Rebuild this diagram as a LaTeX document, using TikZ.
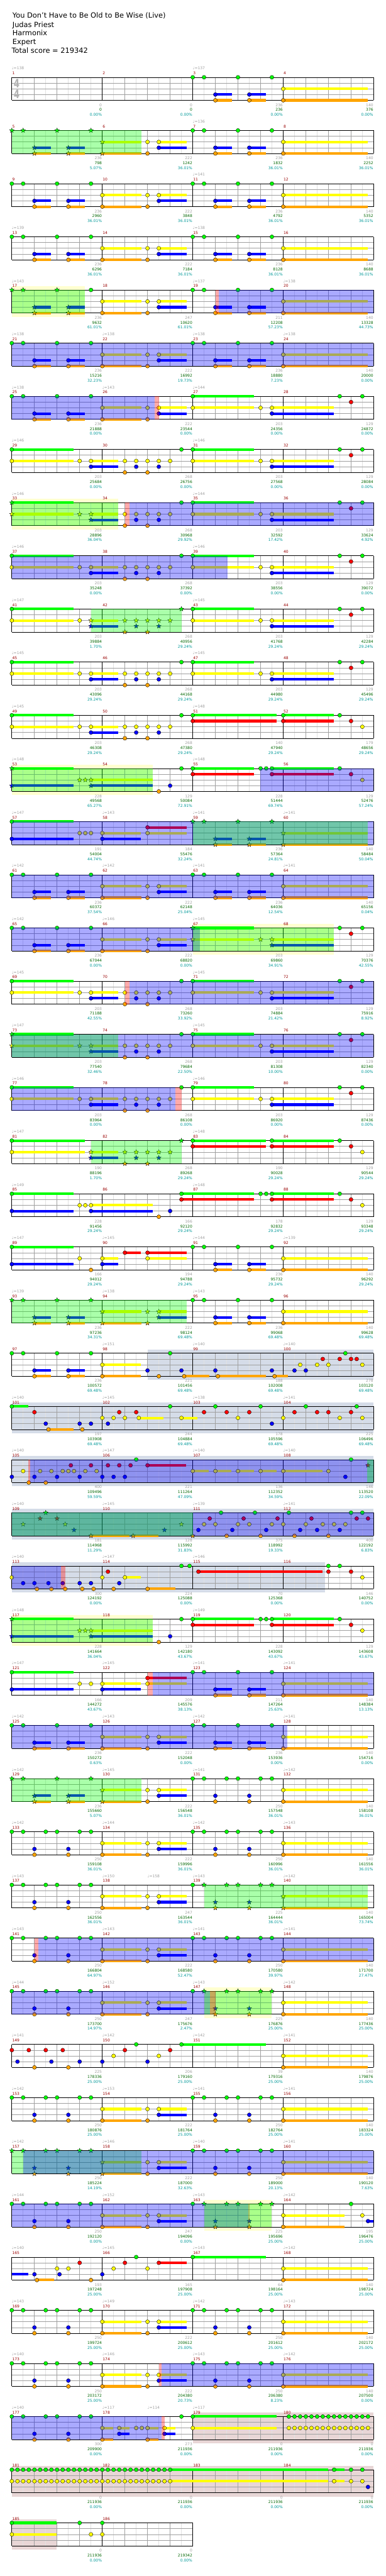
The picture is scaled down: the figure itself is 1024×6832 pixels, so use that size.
\documentclass[tikz,border=0pt]{standalone}
\usepackage{fontspec}
\setmainfont{DejaVu Sans}
\definecolor{cG}{RGB}{0,255,0}
\definecolor{cR}{RGB}{255,0,0}
\definecolor{cY}{RGB}{255,255,0}
\definecolor{cB}{RGB}{0,0,255}
\definecolor{cO}{RGB}{255,165,0}
\colorlet{l0}{cG}\colorlet{l1}{cR}\colorlet{l2}{cY}\colorlet{l3}{cB}\colorlet{l4}{cO}
\definecolor{cSolo}{RGB}{213,220,232}
\definecolor{cLY}{RGB}{255,255,208}
\definecolor{cBRE}{RGB}{232,214,214}
\definecolor{cMeas}{RGB}{153,0,0}
\definecolor{cGray}{RGB}{160,160,160}
\definecolor{cCum}{RGB}{0,102,0}
\definecolor{cPct}{RGB}{0,153,153}
\definecolor{cBeat}{RGB}{160,160,160}
\definecolor{cSub}{RGB}{225,225,225}
\newcommand\fs{\fontsize{10}{12}\selectfont}
\def\pass{0}
\newcommand\onpass[2]{\ifnum\pass=#1\relax#2\fi}
% notes (pass 4), sustains (pass 3)
\newcommand\nt[2]{\onpass{4}{\filldraw[fill=l#2,draw=black,line width=0.6pt] ({30*(#1)},{15.25*#2}) circle[radius=5.2pt];}}
\newcommand\susb[3]{\onpass{3}{\fill[l#2] ({30*(#1)},{15.25*#2-3.4}) rectangle ({30*(#3)},{15.25*#2+3.4});}}
\newcommand\ntS[3]{\susb{#1}{#2}{#3}\nt{#1}{#2}}
\newcommand\sr[2]{\onpass{4}{\filldraw[fill=l#2,draw=black,line width=0.5pt] ({30*(#1)},{15.25*#2}) +(90:6.5pt) -- +(126:2.7pt) -- +(162:6.5pt) -- +(198:2.7pt) -- +(234:6.5pt) -- +(270:2.7pt) -- +(306:6.5pt) -- +(342:2.7pt) -- +(18:6.5pt) -- +(54:2.7pt) -- cycle;}}
\newcommand\srS[3]{\susb{#1}{#2}{#3}\sr{#1}{#2}}
% overlays (pass 5) and backgrounds (pass 1)
\newcommand\ovl[3]{\onpass{5}{\fill[#1,fill opacity=0.333] ({30*(#2)},0) rectangle ({30*(#3)},61);}}
\newcommand\od[2]{\ovl{cG}{#1}{#2}}
\newcommand\act[2]{\ovl{cB}{#1}{#2}}
\newcommand\pk[2]{\ovl{cR}{#1}{#2}}
\newcommand\bgr[3]{\onpass{1}{\fill[#1] ({30*(#2)},-10) rectangle ({30*(#3)},71);}}
\newcommand\solo[2]{\bgr{cSolo}{#1}{#2}}
\newcommand\ly[2]{\bgr{cLY}{#1}{#2}}
\newcommand\bre[2]{\bgr{cBRE}{#1}{#2}}
% grid (pass 2)
\newcommand\grid[1]{\onpass{2}{%
 \pgfmathtruncatemacro\gN{8*#1}%
 \foreach \i in {1,...,\gN}{\pgfmathtruncatemacro\gR{mod(\i,2)}\ifnum\gR=1 \draw[cSub,line width=1pt] ({30*\i},0) -- ({30*\i},61);\fi}%
 \foreach \i in {2,4,...,\gN}{\pgfmathtruncatemacro\gR{mod(\i,8)}\ifnum\gR>0 \draw[cBeat,line width=1pt] ({30*\i},0) -- ({30*\i},61);\fi}%
 \foreach \yy in {15.25,30.5,45.75}{\draw[cBeat,line width=1pt] (0,\yy) -- ({240*#1},\yy);}%
 \foreach \i in {0,...,#1}{\draw[black,line width=1pt] ({240*\i},0) -- ({240*\i},61);}%
 \draw[black,line width=1pt] (0,0) -- ({240*#1},0) (0,61) -- ({240*#1},61);}}
% texts (pass 6)
\newcommand\M[5]{\onpass{6}{%
 \node[anchor=base west,text=cMeas,font=\fs,inner sep=0] (m#2) at ({240*#1+1},-7) {#2};
 \node[anchor=base east,text=cGray,font=\fs,inner sep=0] (g#2) at ({240*(#1+1)-1},77) {#3};
 \node[anchor=base east,text=cCum,font=\fs,inner sep=0] (c#2) at ({240*(#1+1)-1},90) {#4};
 \node[anchor=base east,text=cPct,font=\fs,inner sep=0] (p#2) at ({240*(#1+1)-1},103) {#5\%};}}
\newcommand\tp[2]{\onpass{6}{\node[anchor=base west,text=cGray,font=\fs,inner sep=0] (t\currow-#1) at ({30*(#1)},-20) {♩=#2};}}
\newcommand\Row[2]{\def\currow{#1}\begin{scope}[shift={(31.35,{205+141*(#1-1)})}]#2\end{scope}}
% patterns
\newcommand\PA[3]{#2{#1}{0}#2{#1+1}{0}#2{#1+4}{0}#2{#1+7}{0}#3{#1+2}{3}{#1+3.46}#3{#1+2}{4}{#1+3.46}#3{#1+5}{3}{#1+6.46}#3{#1+5}{4}{#1+6.46}}
\newcommand\PB[4]{#2{#1}{2}{#1+3.44}#2{#1}{4}{#1+3.44}#3{#1+4}{2}#3{#1+4}{4}#4{#1+5}{2}{#1+7.44}#4{#1+5}{3}{#1+7.44}}
\newcommand\PC[2]{#2{#1}{2}{#1+7.47}#2{#1}{4}{#1+7.47}}
\newcommand\PH[3]{#2{#1}{0}#3{#1+1}{0}#3{#1+3}{0}#3{#1+4}{0}#3{#1+6}{0}#3{#1+7}{0}#3{#1+2}{3}#3{#1+2}{4}#3{#1+5}{3}#3{#1+5}{4}}
\newcommand\PD[3]{#3{#1}{0}{#1+5.44}#3{#1}{2}{#1+5.44}#2{#1+6}{2}#3{#1+7}{2}{#1+12.45}#3{#1+7}{3}{#1+12.45}\nt{#1+13}{0}\nt{#1+14}{1}\nt{#1+15}{0}}
\newcommand\PFb[2]{#2{#1+10}{2}#2{#1+10}{4}#2{#1+11}{2}#2{#1+11}{3}#2{#1+12}{2}#2{#1+12}{4}#2{#1+13}{2}#2{#1+13}{3}#2{#1+14}{2}#2{#1+15}{0}}
\newcommand\PF[5]{#2{#1}{0}{#1+5.46}#2{#1}{2}{#1+5.46}#3{#1+6}{2}#4{#1+7}{2}{#1+9.43}#4{#1+7}{3}{#1+9.43}\PFb{#1}{#5}}
\newcommand\PG[1]{\ntS{#1}{0}{#1+7.44}\ntS{#1}{1}{#1+7.44}\ntS{#1+8}{0}{#1+12.45}\ntS{#1+8}{1}{#1+12.45}\nt{#1+13}{0}\nt{#1+14}{1}\nt{#1+15}{2}}
\newcommand\PK{\srS{0}{0}{5.46}\srS{0}{3}{5.46}\sr{6}{2}\sr{6.5}{2}\srS{7}{2}{12.45}\srS{7}{3}{12.45}\nt{13}{4}\nt{14}{3}\nt{15}{0}
\ntS{16}{0}{21.44}\ntS{16}{1}{21.44}\nt{22}{0}\nt{22.5}{0}\ntS{23}{0}{28.45}\ntS{23}{1}{28.45}\nt{29}{0}\nt{30}{1}\nt{31}{2}\ly{0}{12.45}\od{0}{12.45}}
\newcommand\RiffRow{\PA{0}{\nt}{\ntS}\PB{8}{\ntS}{\nt}{\ntS}\PA{16}{\nt}{\ntS}\PC{24}{\ntS}}
\newcommand\HRow{\PH{0}{\nt}{\nt}\PB{8}{\ntS}{\nt}{\ntS}\PH{16}{\nt}{\nt}\PC{24}{\ntS}}
\newcommand\PFp{\PF{0}{\ntS}{\nt}{\ntS}{\nt}}
% ================= all rows
\newcommand\AllRows{%
\Row{1}{\grid{4}\tp{0}{138}\tp{16}{137}
\M{0}{1}{0}{0}{0.00}\M{1}{2}{0}{0}{0.00}\M{2}{3}{236}{236}{0.00}\M{3}{4}{140}{376}{0.00}
\PA{16}{\nt}{\ntS}\PC{24}{\ntS}
\onpass{6}{\node[font=\bfseries\fontsize{31}{31}\selectfont,text=black!30,xscale=0.72,inner sep=0] (ts1) at (13,16.5) {4};
\node[font=\bfseries\fontsize{31}{31}\selectfont,text=black!30,xscale=0.72,inner sep=0] (ts2) at (13,45.5) {4};}}
\Row{2}{\grid{4}\tp{16}{136}
\M{0}{5}{236}{798}{5.07}\M{1}{6}{222}{1242}{36.01}\M{2}{7}{236}{1832}{36.01}\M{3}{8}{140}{2252}{36.01}
\PA{0}{\sr}{\srS}\PB{8}{\srS}{\nt}{\ntS}\PA{16}{\nt}{\ntS}\PC{24}{\ntS}\od{0}{11.44}}
\Row{3}{\grid{4}\tp{16}{141}
\M{0}{9}{236}{2960}{36.01}\M{1}{10}{222}{3848}{36.01}\M{2}{11}{236}{4792}{36.01}\M{3}{12}{140}{5352}{36.01}
\RiffRow}
\Row{4}{\grid{4}\tp{0}{139}\tp{16}{138}
\M{0}{13}{236}{6296}{36.01}\M{1}{14}{222}{7184}{36.01}\M{2}{15}{236}{8128}{36.01}\M{3}{16}{140}{8688}{36.01}
\RiffRow}
\Row{5}{\grid{4}\tp{0}{143}\tp{16}{137}\tp{24}{138}
\M{0}{17}{236}{9632}{61.01}\M{1}{18}{247}{10620}{61.01}\M{2}{19}{211}{12208}{57.23}\M{3}{20}{140}{13328}{44.73}
\sr{0}{0}\sr{1}{0}\sr{4}{0}\nt{7}{0}\srS{2}{3}{3.46}\srS{2}{4}{3.46}\srS{5}{3}{6.46}\srS{5}{4}{6.46}
\PB{8}{\ntS}{\nt}{\ntS}\PA{16}{\nt}{\ntS}\PC{24}{\ntS}
\ly{0}{6.47}\od{0}{6.47}\pk{18}{18.33}\act{18.33}{32}}
\Row{6}{\grid{4}\tp{0}{138}\tp{8}{138}\tp{16}{138}\tp{24}{138}
\M{0}{21}{236}{15216}{32.23}\M{1}{22}{222}{16992}{19.73}\M{2}{23}{236}{18880}{7.23}\M{3}{24}{140}{20000}{0.00}
\RiffRow\act{0}{32}}
\Row{7}{\grid{4}\tp{0}{138}\tp{8}{143}\tp{16}{144}
\M{0}{25}{236}{21888}{0.00}\M{1}{26}{222}{23544}{0.00}\M{2}{27}{203}{24356}{0.00}\M{3}{28}{129}{24872}{0.00}
\PA{0}{\nt}{\ntS}\PB{8}{\ntS}{\nt}{\ntS}\PD{16}{\nt}{\ntS}\act{0}{12.62}\pk{12.62}{13}}
\Row{8}{\grid{4}\tp{0}{146}\tp{16}{146}
\M{0}{29}{203}{25684}{0.00}\M{1}{30}{268}{26756}{0.00}\M{2}{31}{203}{27568}{0.00}\M{3}{32}{129}{28084}{0.00}
\PFp\PD{16}{\nt}{\ntS}}
\Row{9}{\grid{4}\tp{0}{146}\tp{16}{144}
\M{0}{33}{203}{28896}{36.04}\M{1}{34}{268}{30968}{29.92}\M{2}{35}{203}{32592}{17.42}\M{3}{36}{129}{33624}{4.92}
\PF{0}{\srS}{\sr}{\srS}{\nt}\PD{16}{\nt}{\ntS}\ly{0}{9.43}\od{0}{9.43}\pk{10}{10.43}\act{10.43}{32}}
\Row{10}{\grid{4}\tp{0}{146}\tp{16}{146}
\M{0}{37}{203}{35248}{0.00}\M{1}{38}{268}{37392}{0.00}\M{2}{39}{203}{38556}{0.00}\M{3}{40}{129}{39072}{0.00}
\PFp\PD{16}{\nt}{\ntS}\act{0}{19.1}}
\Row{11}{\grid{4}\tp{0}{147}\tp{16}{145}
\M{0}{41}{203}{39884}{1.70}\M{1}{42}{268}{40956}{29.24}\M{2}{43}{203}{41768}{29.24}\M{3}{44}{129}{42284}{29.24}
\PF{0}{\ntS}{\nt}{\srS}{\sr}\PD{16}{\nt}{\ntS}\od{7}{15}}
\Row{12}{\grid{4}\tp{0}{145}\tp{16}{145}
\M{0}{45}{203}{43096}{29.24}\M{1}{46}{268}{44168}{29.24}\M{2}{47}{203}{44980}{29.24}\M{3}{48}{129}{45496}{29.24}
\PFp\PD{16}{\nt}{\ntS}}
\Row{13}{\grid{4}\tp{0}{145}\tp{16}{148}
\M{0}{49}{203}{46308}{29.24}\M{1}{50}{268}{47380}{29.24}\M{2}{51}{140}{47940}{29.24}\M{3}{52}{179}{48656}{29.24}
\PFp\PG{16}}
\Row{14}{\grid{4}\tp{0}{148}\tp{16}{148}
\M{0}{53}{228}{49568}{65.27}\M{1}{54}{129}{50084}{72.91}\M{2}{55}{228}{51444}{69.74}\M{3}{56}{129}{52476}{57.24}
\PK\act{22}{32}}
\Row{15}{\grid{4}\tp{0}{147}\tp{8}{143}\tp{16}{141}\tp{24}{141}
\M{0}{57}{191}{54004}{44.74}\M{1}{58}{184}{55476}{32.24}\M{2}{59}{236}{57364}{24.81}\M{3}{60}{140}{58484}{50.04}
\ntS{0}{0}{5.46}\ntS{0}{3}{5.46}\nt{6}{2}\nt{6.5}{2}\nt{7}{2}\ntS{8}{2}{11.43}\ntS{8}{3}{11.43}\ntS{12}{1}{15.44}\ntS{12}{2}{15.44}
\PA{16}{\sr}{\srS}\PC{24}{\srS}\act{0}{32}\od{16}{31.47}}
\Row{16}{\grid{4}\tp{0}{142}\tp{8}{142}\tp{16}{141}\tp{24}{141}
\M{0}{61}{236}{60372}{37.54}\M{1}{62}{222}{62148}{25.04}\M{2}{63}{236}{64036}{12.54}\M{3}{64}{140}{65156}{0.04}
\RiffRow\act{0}{32}}
\Row{17}{\grid{4}\tp{0}{142}\tp{8}{146}\tp{16}{145}
\M{0}{65}{236}{67044}{0.00}\M{1}{66}{222}{68820}{0.00}\M{2}{67}{203}{69860}{34.91}\M{3}{68}{129}{70376}{42.55}
\PA{0}{\nt}{\ntS}\PB{8}{\ntS}{\nt}{\ntS}\PD{16}{\sr}{\srS}\act{0}{16.63}\ly{16}{28.45}\od{16}{28.45}}
\Row{18}{\grid{4}\tp{0}{145}\tp{16}{145}
\M{0}{69}{203}{71188}{42.55}\M{1}{70}{268}{73260}{33.92}\M{2}{71}{203}{74884}{21.42}\M{3}{72}{129}{75916}{8.92}
\PFp\PD{16}{\nt}{\ntS}\pk{10}{10.43}\act{10.43}{32}}
\Row{19}{\grid{4}\tp{0}{147}\tp{16}{145}
\M{0}{73}{203}{77540}{32.46}\M{1}{74}{268}{79684}{22.50}\M{2}{75}{203}{81308}{10.00}\M{3}{76}{129}{82340}{0.00}
\PF{0}{\srS}{\sr}{\srS}{\nt}\PD{16}{\nt}{\ntS}\act{0}{32}\od{0}{9.43}}
\Row{20}{\grid{4}\tp{0}{146}\tp{16}{146}
\M{0}{77}{203}{83964}{0.00}\M{1}{78}{268}{86108}{0.00}\M{2}{79}{203}{86920}{0.00}\M{3}{80}{129}{87436}{0.00}
\PFp\PD{16}{\nt}{\ntS}\act{0}{14.45}\pk{14.45}{15}}
\Row{21}{\grid{4}\tp{0}{147}\tp{16}{148}
\M{0}{81}{190}{88196}{1.70}\M{1}{82}{268}{89268}{29.24}\M{2}{83}{190}{90028}{29.24}\M{3}{84}{129}{90544}{29.24}
\ntS{0}{0}{6.47}\ntS{0}{2}{6.47}\srS{7}{2}{9.43}\srS{7}{3}{9.43}\PFb{0}{\sr}
\ntS{16}{0}{22.47}\ntS{16}{1}{22.47}\ntS{23}{0}{28.45}\ntS{23}{1}{28.45}\nt{29}{0}\nt{30}{1}\nt{31}{2}\od{7}{15}}
\Row{22}{\grid{4}\tp{0}{149}\tp{16}{148}
\M{0}{85}{228}{91456}{29.24}\M{1}{86}{166}{92120}{29.24}\M{2}{87}{178}{92832}{29.24}\M{3}{88}{129}{93348}{29.24}
\ntS{0}{0}{5.46}\ntS{0}{3}{5.46}\nt{6}{2}\nt{6.5}{2}\ntS{7}{2}{12.45}\ntS{7}{3}{12.45}\nt{13}{4}\nt{14}{3}
\ntS{15}{0}{21.44}\ntS{15}{1}{21.44}\nt{22}{0}\nt{22.5}{0}\ntS{23}{0}{28.45}\ntS{23}{1}{28.45}\nt{29}{0}\nt{30}{1}\nt{31}{2}}
\Row{23}{\grid{4}\tp{0}{147}\tp{8}{145}\tp{16}{144}\tp{24}{139}
\M{0}{89}{166}{94012}{29.24}\M{1}{90}{194}{94788}{29.24}\M{2}{91}{236}{95732}{29.24}\M{3}{92}{140}{96292}{29.24}
\ntS{0}{0}{5.46}\ntS{0}{3}{5.46}\nt{6}{2}\nt{7}{4}\ntS{8}{2}{9.43}\ntS{8}{3}{9.43}\ntS{10}{1}{11.43}\ntS{12}{1}{15.44}\ntS{12}{2}{15.44}
\PA{16}{\nt}{\ntS}\PC{24}{\ntS}}
\Row{24}{\grid{4}\tp{0}{139}\tp{8}{138}\tp{16}{143}
\M{0}{93}{236}{97236}{34.31}\M{1}{94}{222}{98124}{69.48}\M{2}{95}{236}{99068}{69.48}\M{3}{96}{140}{99628}{69.48}
\PA{0}{\sr}{\srS}\PB{8}{\srS}{\sr}{\srS}\PA{16}{\nt}{\ntS}\PC{24}{\ntS}\od{0}{15.44}}
\Row{25}{\grid{4}\tp{8}{151}\tp{16}{140}\tp{24}{140}
\M{0}{97}{236}{100572}{69.48}\M{1}{98}{221}{101456}{69.48}\M{2}{99}{188}{102008}{69.48}\M{3}{100}{278}{103120}{69.48}
\PA{0}{\nt}{\ntS}\ntS{8}{2}{11.43}\ntS{8}{4}{11.43}\nt{12}{3}\nt{13}{4}\nt{14}{0}\nt{15}{3}\ntS{15.24}{4}{17.46}\nt{18}{3}\ntS{18.22}{4}{22.46}
\nt{23}{3}\ntS{23.23}{4}{24.42}\nt{25}{3}\nt{25.5}{2}\nt{26}{3}\nt{27}{2}\nt{27.5}{1}\nt{28}{2}\nt{29}{1}\nt{29.5}{0}\nt{30}{1}\nt{30.5}{1}\nt{31}{2}
\solo{12}{32}}
\Row{26}{\grid{4}\tp{0}{140}\tp{8}{145}\tp{16}{138}\tp{24}{141}
\M{0}{101}{197}{103908}{69.48}\M{1}{102}{244}{104884}{69.48}\M{2}{103}{178}{105596}{69.48}\M{3}{104}{225}{106496}{69.48}
\ntS{0}{0}{1.46}\nt{2}{1}\nt{3}{3}\ntS{3.24}{4}{5.46}\nt{6}{3}\nt{6.23}{4}\nt{7}{3}\nt{8}{2}\nt{8.5}{3}\nt{9}{2}\nt{9.5}{1}\nt{10}{2}\nt{11}{1}
\ntS{11.23}{2}{13.43}\nt{14}{0}\ntS{15}{2}{16.43}\nt{17}{1}\nt{18}{0}\nt{19}{1}\nt{20}{2}\nt{21}{1}\nt{22}{0}\nt{23}{3}\nt{24}{2}\nt{25}{1}
\nt{26}{0}\nt{27}{1}\nt{28}{1}\nt{29}{2}\nt{30}{1}\nt{30.5}{0}\nt{31}{2}\solo{0}{32}}
\Row{27}{\grid{4}\tp{0}{140}\tp{8}{147}\tp{16}{140}\tp{24}{140}
\M{0}{105}{400}{109496}{59.59}\M{1}{106}{221}{111264}{47.09}\M{2}{107}{136}{112352}{34.59}\M{3}{108}{146}{113520}{22.09}
\nt{0}{3}\nt{1}{2}\nt{1.5}{4}\nt{2}{3}\nt{2.5}{2}\nt{3}{4}\nt{3.5}{2}\nt{4}{3}\nt{4.5}{2}\nt{5}{2}\nt{5.22}{1}\nt{5.5}{2}\nt{6}{3}\nt{6.5}{2}
\nt{7}{1}\nt{7.5}{2}\nt{8}{3}\nt{8.5}{1}\nt{9}{3}\nt{9.5}{1}\nt{10}{3}\nt{10.5}{1}\nt{11}{0}\ntS{12}{1}{15.43}\ntS{16}{2}{17.44}\ntS{18}{2}{19.44}
\ntS{20}{2}{21.44}\ntS{22}{2}{23.44}\ntS{24}{2}{27.45}\nt{28}{2}\nt{29.5}{3}\nt{30}{0}\sr{31.5}{1}
\solo{0}{32}\pk{1.46}{1.65}\act{1.65}{32}\od{31.45}{32}}
\Row{28}{\grid{4}\tp{0}{140}\tp{8}{145}\tp{16}{139}\tp{24}{141}
\M{0}{109}{181}{114968}{11.29}\M{1}{110}{128}{115992}{31.83}\M{2}{111}{375}{118992}{19.33}\M{3}{112}{400}{122192}{6.83}
\sr{1}{2}\sr{2.5}{1}\sr{3}{0}\sr{4}{1}\sr{4.72}{2}\sr{5.5}{3}\srS{7}{4}{10.43}\srS{10.73}{4}{12.95}\sr{13.5}{3}\sr{15}{2}\sr{16}{4}
\nt{16.5}{3}\nt{17}{2}\nt{17.5}{1}\nt{18}{2}\nt{18.5}{0}\nt{19}{4}\nt{19.5}{3}\nt{20}{2}\nt{20.5}{1}\nt{21}{2}\nt{21.5}{0}\nt{22}{4}
\nt{22.5}{3}\nt{23}{2}\nt{23.5}{1}\nt{24}{2}\nt{24.5}{0}\nt{25}{4}\nt{25.5}{3}\nt{26}{2}\nt{26.5}{1}\nt{27}{3}\nt{27.5}{2}\nt{28}{4}
\nt{28.5}{2}\nt{29}{3}\nt{29.5}{2}\nt{30}{0}\nt{30.5}{1}\nt{31}{0}\nt{31.5}{1}
\solo{0}{32}\act{0}{32}\od{0}{16}}
\Row{29}{\grid{4}\tp{0}{140}\tp{8}{147}\tp{16}{146}
\M{0}{113}{300}{124192}{0.00}\M{1}{114}{224}{125088}{0.00}\M{2}{115}{70}{125368}{0.00}\M{3}{116}{146}{140752}{0.00}
\nt{0}{2}\nt{1}{3}\nt{2}{3}\nt{2.22}{4}\nt{3.24}{3}\nt{3.5}{4}\nt{4.5}{3}\nt{4.72}{4}\nt{6}{3}\nt{6.23}{4}\nt{7}{3}\nt{7.23}{4}
\nt{8}{2}\nt{8.5}{1}\nt{9}{4}\nt{9.5}{3}\ntS{10}{2}{11.43}\ntS{12}{4}{14.45}\nt{15}{0}\nt{15.72}{0}\ntS{16.5}{1}{27.45}
\nt{28}{0}\nt{28}{1}\nt{29}{0}\nt{30}{1}\nt{31}{2}
\solo{0}{27.69}\act{0}{4.35}\pk{4.35}{4.72}}
\Row{30}{\grid{4}\tp{0}{148}\tp{16}{149}
\M{0}{117}{228}{141664}{36.04}\M{1}{118}{129}{142180}{43.67}\M{2}{119}{228}{143092}{43.67}\M{3}{120}{129}{143608}{43.67}
\PK}
\Row{31}{\grid{4}\tp{0}{147}\tp{8}{145}\tp{16}{141}\tp{24}{141}
\M{0}{121}{166}{144272}{43.67}\M{1}{122}{209}{145576}{38.13}\M{2}{123}{211}{147264}{25.63}\M{3}{124}{140}{148384}{13.13}
\ntS{0}{0}{5.46}\ntS{0}{3}{5.46}\nt{6}{2}\nt{7}{2}\ntS{8}{2}{11.43}\ntS{8}{3}{11.43}\ntS{12}{1}{15.44}\ntS{12}{2}{15.44}
\PA{16}{\nt}{\ntS}\PC{24}{\ntS}\pk{12}{12.45}\act{12.45}{32}}
\Row{32}{\grid{4}\tp{0}{142}\tp{8}{143}\tp{16}{142}\tp{24}{141}
\M{0}{125}{236}{150272}{0.63}\M{1}{126}{222}{152048}{0.00}\M{2}{127}{236}{153936}{0.00}\M{3}{128}{140}{154716}{0.00}
\RiffRow\act{0}{24.38}}
\Row{33}{\grid{4}\tp{0}{142}\tp{8}{145}\tp{16}{141}\tp{24}{142}
\M{0}{129}{236}{155660}{5.07}\M{1}{130}{222}{156548}{36.01}\M{2}{131}{250}{157548}{36.01}\M{3}{132}{140}{158108}{36.01}
\PA{0}{\sr}{\srS}\PB{8}{\srS}{\nt}{\ntS}\PH{16}{\nt}{\nt}\PC{24}{\ntS}\od{0}{11.44}}
\Row{34}{\grid{4}\tp{0}{142}\tp{8}{144}\tp{16}{142}\tp{24}{143}
\M{0}{133}{250}{159108}{36.01}\M{1}{134}{222}{159996}{36.01}\M{2}{135}{250}{160996}{36.01}\M{3}{136}{140}{161556}{36.01}
\HRow}
\Row{35}{\grid{4}\tp{0}{143}\tp{8}{150}\tp{12}{158}\tp{16}{143}\tp{24}{142}
\M{0}{137}{250}{162556}{36.01}\M{1}{138}{247}{163544}{36.01}\M{2}{139}{225}{164444}{36.01}\M{3}{140}{140}{165004}{73.74}
\PH{0}{\nt}{\nt}\PB{8}{\ntS}{\nt}{\ntS}\PH{16}{\nt}{\sr}\PC{24}{\srS}\od{17}{31.47}}
\Row{36}{\grid{4}\tp{0}{143}\tp{8}{143}\tp{16}{141}\tp{24}{141}
\M{0}{141}{250}{166804}{64.97}\M{1}{142}{222}{168580}{52.47}\M{2}{143}{250}{170580}{39.97}\M{3}{144}{140}{171700}{27.47}
\HRow\pk{2}{2.33}\act{2.33}{32}}
\Row{37}{\grid{4}\tp{0}{144}\tp{8}{152}\tp{16}{143}\tp{24}{142}
\M{0}{145}{250}{173700}{14.97}\M{1}{146}{247}{175676}{2.47}\M{2}{147}{225}{176876}{25.00}\M{3}{148}{140}{177436}{25.00}
\PH{0}{\nt}{\nt}\PB{8}{\ntS}{\nt}{\ntS}\PH{16}{\nt}{\sr}\PC{24}{\ntS}\act{0}{17.5}\ly{17}{23}\od{17}{23}\pk{17.5}{18}}
\Row{38}{\grid{4}\tp{0}{141}\tp{8}{142}\tp{16}{142}\tp{24}{141}
\M{0}{149}{225}{178336}{25.00}\M{1}{150}{206}{179160}{25.00}\M{2}{151}{39}{179316}{25.00}\M{3}{152}{140}{179876}{25.00}
\nt{0}{1}\nt{0.5}{3}\nt{1.5}{1}\nt{2}{4}\nt{3}{1}\nt{3.5}{3}\nt{4.5}{1}\nt{5}{4}\nt{6}{3}\nt{8}{3}\nt{9}{2}\nt{10}{1}\nt{11}{0}
\nt{12}{3}\nt{13}{2}\nt{14}{1}\ntS{15}{0}{22.46}\PC{24}{\ntS}}
\Row{39}{\grid{4}\tp{0}{142}\tp{8}{153}\tp{16}{141}\tp{24}{141}
\M{0}{153}{250}{180876}{25.00}\M{1}{154}{222}{181764}{25.00}\M{2}{155}{250}{182764}{25.00}\M{3}{156}{140}{183324}{25.00}
\HRow}
\Row{40}{\grid{4}\tp{0}{142}\tp{8}{146}\tp{16}{140}\tp{24}{141}
\M{0}{157}{250}{185224}{14.19}\M{1}{158}{222}{187000}{32.63}\M{2}{159}{250}{189000}{20.13}\M{3}{160}{140}{190120}{7.63}
\PH{0}{\sr}{\sr}\PB{8}{\srS}{\nt}{\ntS}\PH{16}{\nt}{\nt}\PC{24}{\ntS}\od{0}{11.44}\act{1}{32}}
\Row{41}{\grid{4}\tp{0}{144}\tp{8}{152}\tp{16}{143}\tp{24}{142}
\M{0}{161}{250}{192120}{0.00}\M{1}{162}{247}{194096}{0.00}\M{2}{163}{225}{195696}{25.00}\M{3}{164}{195}{196476}{25.00}
\PH{0}{\nt}{\nt}\PB{8}{\ntS}{\nt}{\ntS}\PH{16}{\nt}{\sr}\ntS{24}{2}{29.45}\ntS{24}{4}{29.45}\nt{30}{0}\nt{31}{2}\ntS{31.5}{3}{32}
\act{0}{20.9}\pk{20.9}{21}\ly{17}{23}\od{17}{23}}
\Row{42}{\grid{4}\tp{0}{140}\tp{8}{145}\tp{16}{143}\tp{24}{142}
\M{0}{165}{193}{197248}{25.00}\M{1}{166}{165}{197908}{25.00}\M{2}{167}{64}{198164}{25.00}\M{3}{168}{140}{198724}{25.00}
\susb{0}{3}{1.46}\nt{2}{3}\ntS{2.22}{4}{3.72}\nt{4}{2}\nt{4.22}{3}\nt{5}{2}\nt{6}{1}\nt{7}{4}\nt{8}{3}\nt{9}{2}\nt{10}{1}\nt{11}{0}\nt{12}{2}
\ntS{13}{1}{15.44}\ntS{16}{0}{22.46}\PC{24}{\ntS}}
\Row{43}{\grid{4}\tp{0}{143}\tp{8}{149}\tp{16}{142}\tp{24}{143}
\M{0}{169}{250}{199724}{25.00}\M{1}{170}{222}{200612}{25.00}\M{2}{171}{250}{201612}{25.00}\M{3}{172}{140}{202172}{25.00}
\HRow}
\Row{44}{\grid{4}\tp{0}{140}\tp{8}{146}\tp{16}{143}\tp{24}{142}
\M{0}{173}{250}{203172}{25.00}\M{1}{174}{222}{204380}{20.73}\M{2}{175}{250}{206380}{8.23}\M{3}{176}{140}{207500}{0.00}
\HRow\pk{13}{13.26}\act{13.26}{32}}
\Row{45}{\grid{4}\tp{0}{140}\tp{8}{117}\tp{12}{114}\tp{16}{117}
\M{0}{177}{300}{209900}{0.00}\M{1}{178}{273}{211936}{0.00}\M{2}{179}{0}{211936}{0.00}\M{3}{180}{0}{211936}{0.00}
\PH{0}{\nt}{\nt}\ntS{8}{2}{8.95}\ntS{8}{4}{8.95}\ntS{9.5}{2}{10.43}\ntS{9.5}{3}{10.43}\nt{11}{2}\nt{11.5}{2}\ntS{12}{2}{12.95}\ntS{12}{4}{12.95}
\ntS{13.5}{2}{14.45}\ntS{13.5}{3}{14.45}\nt{15}{0}\ntS{16}{0}{23.44}\ntS{16}{2}{23.44}
\foreach \p in {24.5,25,...,31.5}{\nt{\p}{0}\nt{\p}{2}}
\act{0}{13.26}\pk{13.26}{13.5}\bre{16}{32}}
\Row{46}{\grid{4}
\M{0}{181}{0}{211936}{0.00}\M{1}{182}{0}{211936}{0.00}\M{2}{183}{0}{211936}{0.00}\M{3}{184}{0}{211936}{0.00}
\foreach \p in {0,0.5,...,13.5}{\nt{\p}{0}\nt{\p}{2}}
\ntS{14}{0}{27.95}\ntS{14}{2}{27.95}\ntS{28.5}{0}{29.45}\ntS{28.5}{2}{29.45}\nt{30}{0}\nt{30}{2}\nt{31}{0}\nt{31}{2}\nt{31.5}{3}
\bre{0}{32}}
\Row{47}{\grid{2}
\M{0}{185}{0}{211936}{0.00}\M{1}{186}{0}{219342}{0.00}
\ntS{0}{0}{3.96}\ntS{0}{2}{3.96}\nt{6}{0}\nt{7}{2}\nt{8}{0}\nt{8}{2}\bre{0}{3.96}}
}
\begin{document}
\begin{tikzpicture}[x=1pt,y=-1pt]
\useasboundingbox (0,0) rectangle (1024,6832);
\fill[white] (0,0) rectangle (1024,6832);
\begin{scope}[font=\fontsize{19}{23}\selectfont]
\node[anchor=base west,inner sep=0] (title) at (33,48) {You Don't Have to Be Old to Be Wise (Live)};
\node[anchor=base west,inner sep=0] (artist) at (33,72) {Judas Priest};
\node[anchor=base west,inner sep=0] (charter) at (33,95) {Harmonix};
\node[anchor=base west,inner sep=0] (diff) at (33,118) {Expert};
\node[anchor=base west,inner sep=0] (score) at (31,141) {Total score = 219342};
\end{scope}
\def\pass{1}\AllRows
\def\pass{2}\AllRows
\def\pass{3}\AllRows
\def\pass{4}\AllRows
\def\pass{5}\AllRows
\def\pass{6}\AllRows
\end{tikzpicture}
\end{document}
